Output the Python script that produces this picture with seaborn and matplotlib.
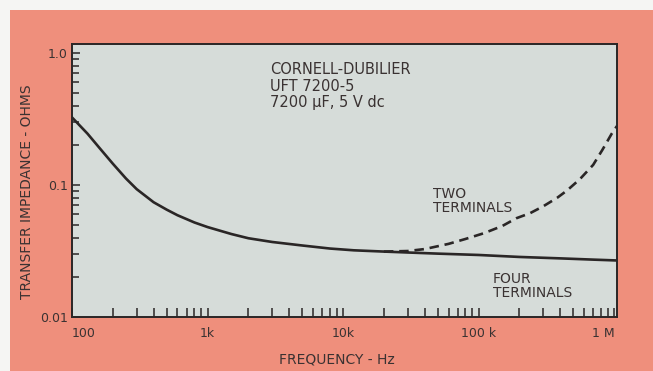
import matplotlib
matplotlib.use("Agg")
import matplotlib.pyplot as plt
from matplotlib.patches import Rectangle
from matplotlib.ticker import FixedLocator, FixedFormatter, LogLocator, NullFormatter
import pandas as pd
import seaborn as sns

# Transfer impedance of a Cornell-Dubilier UFT 7200-5 capacitor
four_freq = [100, 130, 160, 200, 250, 300, 400, 500, 600, 800, 1000, 1500,
             2000, 3000, 5000, 8000, 12000, 20000, 30000, 50000, 100000,
             200000, 400000, 700000, 1050000]
four_z = [0.325, 0.245, 0.19, 0.145, 0.112, 0.093, 0.074, 0.065, 0.059,
          0.052, 0.048, 0.0425, 0.0395, 0.0370, 0.0348, 0.0330, 0.0320,
          0.0313, 0.0308, 0.0302, 0.0295, 0.0285, 0.0278, 0.0272, 0.0268]

two_freq = [20000, 30000, 40000, 60000, 80000, 110000, 150000, 190000,
            240000, 300000, 380000, 450000, 560000, 700000, 820000, 960000,
            1050000]
two_z = [0.0313, 0.0316, 0.0327, 0.0358, 0.039, 0.0432, 0.049, 0.056,
         0.0612, 0.069, 0.080, 0.091, 0.111, 0.142, 0.185, 0.245, 0.28]

x_ticks = [100, 1e3, 1e4, 1e5, 1e6]
x_tick_labels = ["100", "1k", "10k", "100 k", "1 M"]
y_ticks = [0.01, 0.1, 1.0]
y_tick_labels = ["0.01", "0.1", "1.0"]

SALMON = "#ef8f7c"
PANEL = "#d6dcd9"
INK = "#2a2626"
TEXT = "#3a3232"

sns.set_theme(style="ticks")
plt.rcParams["font.family"] = ["DejaVu Sans"]

fig = plt.figure(figsize=(6.53, 3.71), dpi=100, facecolor="#f5f5f3")
fig.patches.append(Rectangle((10 / 653, 0), 1, 1 - 10 / 371,
                             transform=fig.transFigure, facecolor=SALMON,
                             edgecolor="none", zorder=-10))

ax = fig.add_axes([0.1103, 0.1456, 0.8346, 0.7358])
ax.set_zorder(1)
ax.set_facecolor(PANEL)

four_df = pd.DataFrame({"freq": four_freq, "z": four_z})
two_df = pd.DataFrame({"freq": two_freq, "z": two_z})

sns.lineplot(data=four_df, x="freq", y="z", ax=ax, color=INK,
             linewidth=1.9, estimator=None, sort=False)
sns.lineplot(data=two_df, x="freq", y="z", ax=ax, color=INK,
             linewidth=1.9, estimator=None, sort=False)
ax.lines[-1].set_dashes((3.6, 2.2))

ax.set_xscale("log")
ax.set_yscale("log")
ax.set_xlim(100, 1.05e6)
ax.set_ylim(0.01, 1.17)

ax.xaxis.set_major_locator(FixedLocator(x_ticks))
ax.xaxis.set_major_formatter(FixedFormatter(x_tick_labels))
ax.xaxis.set_minor_locator(LogLocator(base=10, subs=range(2, 10), numticks=20))
ax.xaxis.set_minor_formatter(NullFormatter())
ax.yaxis.set_major_locator(FixedLocator(y_ticks))
ax.yaxis.set_major_formatter(FixedFormatter(y_tick_labels))
ax.yaxis.set_minor_locator(LogLocator(base=10, subs=range(2, 10), numticks=20))
ax.yaxis.set_minor_formatter(NullFormatter())

ax.tick_params(axis="x", which="both", direction="in", length=6.5,
               width=1.1, color=INK, bottom=True, top=False)
ax.tick_params(axis="y", which="both", direction="in", length=5,
               width=1.1, color=INK, left=True, right=False)
ax.tick_params(axis="x", which="major", pad=7, labelsize=9, labelcolor=TEXT)
ax.tick_params(axis="y", which="major", length=6, pad=3, labelsize=9,
               labelcolor=TEXT)
labels = ax.get_xticklabels()
labels[0].set_ha("left")
labels[-1].set_ha("right")

for side in ("left", "right", "top", "bottom"):
    ax.spines[side].set_visible(True)
    ax.spines[side].set_color(INK)
    ax.spines[side].set_linewidth(1.4)

ax.set_xlabel("FREQUENCY - Hz", fontsize=10, color=TEXT)
ax.set_ylabel("TRANSFER IMPEDANCE - OHMS", fontsize=10, color=TEXT)
ax.xaxis.set_label_coords(0.486, -0.13)
ax.yaxis.set_label_coords(-0.07, 0.46)

ax.text(0.363, 0.935, "CORNELL-DUBILIER\nUFT 7200-5\n7200 μF, 5 V dc",
        transform=ax.transAxes, ha="left", va="top", fontsize=10.5,
        color=TEXT, linespacing=1.15)
ax.text(0.662, 0.475, "TWO\nTERMINALS", transform=ax.transAxes,
        ha="left", va="top", fontsize=10, color=TEXT, linespacing=1.0)
ax.text(0.772, 0.163, "FOUR\nTERMINALS", transform=ax.transAxes,
        ha="left", va="top", fontsize=10, color=TEXT, linespacing=1.0)

fig.savefig("out.png", dpi=100, facecolor=fig.get_facecolor())
